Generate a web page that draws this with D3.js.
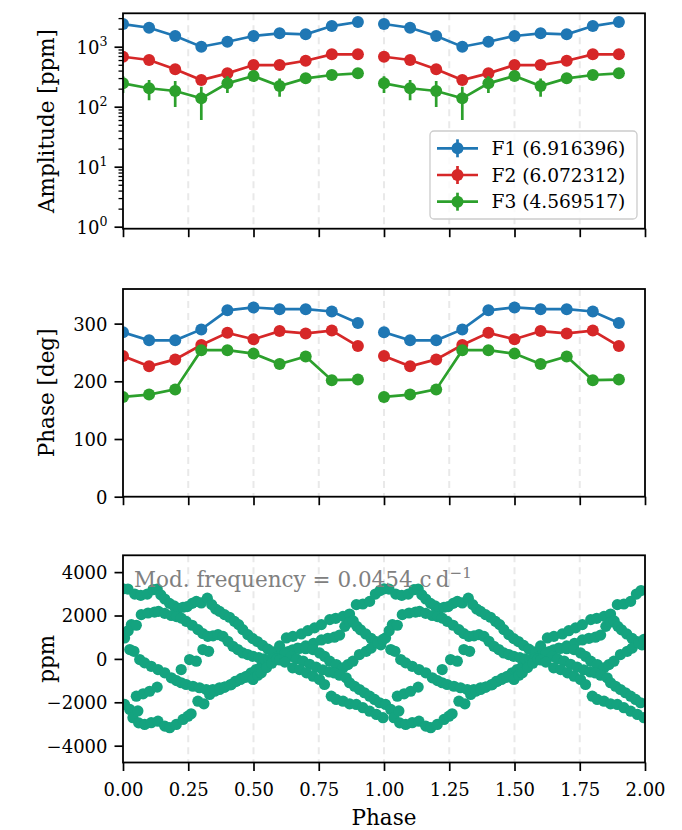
<!DOCTYPE html>
<html>
<head>
<meta charset="utf-8">
<script src="https://cdn.jsdelivr.net/npm/d3@7"></script>
<style>
  html, body { margin: 0; padding: 0; background: #ffffff; }
  svg { display: block; font-family: "DejaVu Serif", serif; }
</style>
</head>
<body>
<svg id="fig" width="682" height="830"></svg>
<script>
// ---- data -------------------------------------------------------------
// Modulation phases of the fitted segments (one cycle, drawn twice)
const phases = [0.0, 0.1, 0.2, 0.3, 0.4, 0.5, 0.6, 0.7, 0.8, 0.9];
const cycles = [0, 1];

// Amplitudes [ppm] and their uncertainties
const ampF1 = [2390, 2070, 1510, 1000, 1210, 1510, 1670, 1610, 2210, 2580];
const ampF2 = [681, 600, 420, 279, 360, 495, 495, 584, 747, 747];
const ampF3 = [245, 203, 183, 138, 245, 325, 221, 297, 338, 360];
const errAmpF1 = [40, 40, 40, 40, 40, 40, 40, 40, 40, 40];
const errAmpF2 = [35, 35, 35, 35, 35, 35, 35, 35, 35, 35];
const errAmpF3 = [76, 75, 84, 78, 76, 40, 74, 40, 35, 35];

// Phases [deg]
const phaseF1 = [285, 271, 271, 290, 323, 328, 325, 325, 321, 301];
const phaseF2 = [244, 226, 238, 263, 284, 273, 287, 283, 288, 261];
const phaseF3 = [173, 177, 186, 254, 254, 248, 230, 243, 202, 203];

const seriesNames = ["F1 (6.916396)", "F2 (6.072312)", "F3 (4.569517)"];
const seriesColors = ["#1f77b4", "#d62728", "#2ca02c"];

// Tick values
const phaseTicks = [0, 0.25, 0.5, 0.75, 1.0, 1.25, 1.5, 1.75, 2.0];
const ampTicks = [1, 10, 100, 1000];
const degTicks = [0, 100, 200, 300];
const ppmTicks = [-4000, -2000, 0, 2000, 4000];

// Light curve folded on the modulation period: [phase, ppm] runs
const runA = [[0.000,3230],[0.019,3220],[0.045,2990],[0.068,2930],[0.093,2990],[0.115,3190],[0.131,3220],
  [0.145,2950],[0.160,2760],[0.178,2560],[0.195,2450],[0.212,2330],[0.230,2380],[0.246,2410],[0.265,2560],
  [0.281,2650],[0.300,2580],[0.323,2800],[0.340,2500],[0.355,2300],[0.370,2190],[0.389,2040],[0.408,1920],
  [0.427,1730],[0.443,1580],[0.459,1350],[0.478,1120],[0.497,935],[0.515,800],[0.535,620],[0.555,450],
  [0.575,330],[0.595,250]];
const runB = [[0.560,-50],[0.580,250],[0.600,600],[0.626,965],[0.651,1040],[0.683,1150],[0.708,1300],
  [0.734,1430],[0.760,1580],[0.792,1810],[0.815,1870],[0.843,1960],[0.868,2070],[0.894,2500],[0.919,2530],
  [0.945,2650],[0.967,2990],[0.985,3150]];
const runC = [[0.610,150],[0.640,350],[0.670,500],[0.700,600],[0.730,720],[0.760,875],[0.785,950],
  [0.810,1000],[0.830,1100],[0.850,1500],[0.868,1700],[0.882,1750],[0.896,1500],[0.910,1340],[0.930,1150],
  [0.950,950],[0.970,800],[0.988,650],[0.026,430],[0.042,350],[0.064,-30],[0.083,-185],[0.108,-340],
  [0.134,-490],[0.160,-640],[0.185,-870],[0.205,-1000],[0.223,-1100],[0.242,-1180],[0.268,-1260],
  [0.293,-1330],[0.319,-1410],[0.344,-1410],[0.370,-1330],[0.389,-1300],[0.415,-1180],[0.434,-1030],
  [0.453,-900],[0.472,-800],[0.491,-640],[0.510,-490],[0.530,-350],[0.550,-200],[0.570,-50],[0.590,80]];
const runD = [[0.610,250],[0.630,330],[0.650,420],[0.675,480],[0.700,470],[0.728,430],[0.753,275],
  [0.772,120],[0.792,-107],[0.817,-260],[0.843,-410],[0.862,-260],[0.881,-107],[0.906,200],[0.932,350],
  [0.951,500],[0.976,735],[0.996,900],[0.006,965],[0.020,1300],[0.032,1580],[0.051,1550],[0.070,2040],
  [0.096,2115],[0.121,2160],[0.136,2190],[0.160,2100],[0.185,2000],[0.205,1950],[0.223,1880],[0.242,1730],
  [0.265,1550],[0.287,1350],[0.306,1165],[0.325,1040],[0.345,1060],[0.364,1120],[0.383,1040],[0.402,810],
  [0.421,580],[0.440,430],[0.459,275],[0.478,200],[0.497,120],[0.520,60],[0.540,0],[0.560,-30],[0.580,30]];
const runE = [[0.620,250],[0.645,120],[0.665,0],[0.690,-100],[0.715,-250],[0.740,-380],[0.765,-500],
  [0.790,-600],[0.810,-650],[0.830,-750],[0.855,-870],[0.868,-1100],[0.887,-1260],[0.906,-1410],
  [0.925,-1560],[0.945,-1720],[0.964,-1870],[0.983,-2020],[0.006,-2100],[0.026,-2330],[0.038,-2710],
  [0.060,-2950],[0.083,-3020],[0.108,-2940],[0.134,-2870],[0.160,-3100],[0.179,-3170],[0.204,-3020],
  [0.230,-2790],[0.249,-2640],[0.261,-2530],[0.287,-1950],[0.310,-2070],[0.332,-1640],[0.351,-1490],
  [0.370,-1410],[0.390,-1300],[0.410,-1200],[0.430,-1040],[0.450,-950],[0.470,-850],[0.498,-950],
  [0.517,-750],[0.530,-640],[0.550,-400],[0.570,-200],[0.590,0]];
const runF = [[0.600,-50],[0.620,-150],[0.650,-410],[0.677,-490],[0.703,-640],[0.728,-800],[0.753,-950],
  [0.772,-1180],[0.798,-1720],[0.817,-1870],[0.843,-1950],[0.868,-2070],[0.894,-2100],[0.919,-2250],
  [0.945,-2410],[0.971,-2560],[0.996,-2710],[0.057,-2400],[0.051,-1720],[0.077,-1610],[0.102,-1490],
  [0.131,-1300],[0.223,-490],[0.255,-30],[0.281,-107],[0.306,430],[0.328,350]];
const lightCurveRuns = [runA, runB, runC, runD, runE, runF];
const lcColor = "#14a37f";
const modLabel = "Mod. frequency = 0.0454";

// ---- layout -----------------------------------------------------------
const L = 123, R = 645;
const boxes = { amp: [13.3, 228.7], deg: [289, 496.7], lc: [555.3, 762.5] };
const svg = d3.select("#fig");
const x = d3.scaleLinear().domain([0, 2]).range([L, R]);

const yAmp = d3.scaleLog().domain([0.926, 3606]).range([boxes.amp[1], boxes.amp[0]]);
const yDeg = d3.scaleLinear().domain([0, 360]).range([boxes.deg[1], boxes.deg[0]]);
const yLc = d3.scaleLinear().domain([-4775, 4775]).range([boxes.lc[1], boxes.lc[0]]);

const TICK_FS = 18, LABEL_FS = 21.5;

function clipFor(id, box) {
  svg.append("clipPath").attr("id", id)
    .append("rect").attr("x", L).attr("y", box[0]).attr("width", R - L).attr("height", box[1] - box[0]);
  return "url(#" + id + ")";
}

function grid(box) {
  svg.append("g").selectAll("line")
    .data(phaseTicks.filter(t => t > 0 && t < 2)).join("line")
    .attr("x1", d => x(d)).attr("x2", d => x(d))
    .attr("y1", box[0]).attr("y2", box[1])
    .attr("stroke", "#e9e9e9").attr("stroke-width", 2).attr("stroke-dasharray", "7,5");
}

function xAxis(box, labels) {
  const ax = d3.axisBottom(x).tickValues(phaseTicks).tickSize(8.5).tickPadding(5)
    .tickFormat(labels ? d3.format(".2f") : () => "");
  const g = svg.append("g").attr("transform", `translate(0,${box[1]})`).call(ax);
  g.select(".domain").remove();
  g.selectAll(".tick line").attr("stroke", "#000").attr("stroke-width", 1.7);
  g.selectAll(".tick text").attr("fill", "#000").attr("font-size", TICK_FS)
    .attr("font-family", "DejaVu Serif").attr("dy", null).attr("y", 33.5);
}

function yAxis(scale, values, fmt) {
  const ax = d3.axisLeft(scale).tickValues(values).tickSize(8.5).tickPadding(7).tickFormat(fmt);
  const g = svg.append("g").attr("transform", `translate(${L},0)`).call(ax);
  g.select(".domain").remove();
  g.selectAll(".tick line").attr("stroke", "#000").attr("stroke-width", 1.7);
  g.selectAll(".tick text").attr("fill", "#000").attr("font-size", TICK_FS)
    .attr("font-family", "DejaVu Serif").attr("dy", "0.36em");
  return g;
}

function frame(box) {
  svg.append("rect").attr("x", L).attr("y", box[0]).attr("width", R - L).attr("height", box[1] - box[0])
    .attr("fill", "none").attr("stroke", "#000").attr("stroke-width", 1.8);
}

function yLabel(text, box) {
  svg.append("text").attr("transform", `translate(54,${(box[0] + box[1]) / 2}) rotate(-90)`)
    .attr("text-anchor", "middle").attr("font-size", LABEL_FS).attr("fill", "#000").text(text);
}

// ---- panel 1: amplitudes ----------------------------------------------
grid(boxes.amp);
const ampClip = clipFor("clipAmp", boxes.amp);
const ampSeries = [[ampF1, errAmpF1], [ampF2, errAmpF2], [ampF3, errAmpF3]];
const gAmp = svg.append("g").attr("clip-path", ampClip);
ampSeries.forEach(([vals, errs], i) => {
  const col = seriesColors[i];
  cycles.forEach(c => {
    const pts = phases.map((p, k) => ({ p: p + c, v: vals[k], e: errs[k] }));
    gAmp.append("path").datum(pts)
      .attr("d", d3.line().x(d => x(d.p)).y(d => yAmp(d.v)))
      .attr("fill", "none").attr("stroke", col).attr("stroke-width", 2.7);
    gAmp.append("g").selectAll("line").data(pts).join("line")
      .attr("x1", d => x(d.p)).attr("x2", d => x(d.p))
      .attr("y1", d => yAmp(Math.max(d.v - d.e, 0.5))).attr("y2", d => yAmp(d.v + d.e))
      .attr("stroke", col).attr("stroke-width", 2.7);
    gAmp.append("g").selectAll("circle").data(pts).join("circle")
      .attr("cx", d => x(d.p)).attr("cy", d => yAmp(d.v)).attr("r", 6).attr("fill", col);
  });
});
frame(boxes.amp);
xAxis(boxes.amp, false);
// minor log ticks
const minorAmp = [];
[1, 10, 100, 1000].forEach(dec => { for (let m = 2; m <= 9; m++) if (dec * m < 3606) minorAmp.push(dec * m); });
const gMinor = svg.append("g").attr("transform", `translate(${L},0)`)
  .call(d3.axisLeft(yAmp).tickValues(minorAmp).tickSize(4.5).tickFormat(() => ""));
gMinor.select(".domain").remove();
gMinor.selectAll(".tick line").attr("stroke", "#000").attr("stroke-width", 1.3);
const gAmpAx = yAxis(yAmp, ampTicks, () => "");
gAmpAx.selectAll(".tick text").each(function (d) {
  const t = d3.select(this);
  t.append("tspan").text("10");
  t.append("tspan").attr("font-size", 12.6).attr("dy", -7.5).text(String(Math.round(Math.log10(d))));
});
yLabel("Amplitude [ppm]", boxes.amp);

// legend
const lg = svg.append("g");
lg.append("rect").attr("x", 430).attr("y", 131).attr("width", 207).attr("height", 88).attr("rx", 4)
  .attr("fill", "#fff").attr("fill-opacity", 0.8).attr("stroke", "#cccccc").attr("stroke-width", 1.3);
seriesNames.forEach((name, i) => {
  const yy = 148.3 + i * 26.7;
  const col = seriesColors[i];
  lg.append("line").attr("x1", 437).attr("x2", 478).attr("y1", yy).attr("y2", yy)
    .attr("stroke", col).attr("stroke-width", 2.7);
  lg.append("line").attr("x1", 457.5).attr("x2", 457.5).attr("y1", yy - 9).attr("y2", yy + 9)
    .attr("stroke", col).attr("stroke-width", 2.7);
  lg.append("circle").attr("cx", 457.5).attr("cy", yy).attr("r", 6).attr("fill", col);
  lg.append("text").attr("x", 491.5).attr("y", yy + 6.6).attr("font-size", 18.6).attr("fill", "#000").text(name);
});

// ---- panel 2: phases ---------------------------------------------------
grid(boxes.deg);
const degClip = clipFor("clipDeg", boxes.deg);
const gDeg = svg.append("g").attr("clip-path", degClip);
[phaseF1, phaseF2, phaseF3].forEach((vals, i) => {
  const col = seriesColors[i];
  cycles.forEach(c => {
    const pts = phases.map((p, k) => ({ p: p + c, v: vals[k] }));
    gDeg.append("path").datum(pts)
      .attr("d", d3.line().x(d => x(d.p)).y(d => yDeg(d.v)))
      .attr("fill", "none").attr("stroke", col).attr("stroke-width", 2.7);
    gDeg.append("g").selectAll("circle").data(pts).join("circle")
      .attr("cx", d => x(d.p)).attr("cy", d => yDeg(d.v)).attr("r", 6).attr("fill", col);
  });
});
frame(boxes.deg);
xAxis(boxes.deg, false);
yAxis(yDeg, degTicks, d3.format("d"));
yLabel("Phase [deg]", boxes.deg);

// ---- panel 3: folded light curve ----------------------------------------
grid(boxes.lc);
const lcClip = clipFor("clipLc", boxes.lc);
const lcPts = [];
lightCurveRuns.forEach(run => cycles.forEach(c => run.forEach(([p, v]) => lcPts.push({ p: p + c, v }))));
svg.append("g").attr("clip-path", lcClip).selectAll("circle").data(lcPts).join("circle")
  .attr("cx", d => x(d.p)).attr("cy", d => yLc(d.v)).attr("r", 5.6).attr("fill", lcColor);
const note = svg.append("text").attr("x", 134).attr("y", 586.5).attr("font-size", 21.5).attr("fill", "#808080");
note.append("tspan").text(modLabel + " c\u2009d");
note.append("tspan").attr("font-size", 15).attr("dy", -8.5).text("\u22121");
frame(boxes.lc);
xAxis(boxes.lc, true);
yAxis(yLc, ppmTicks, d => d3.format("d")(d).replace("-", "\u2212"));
yLabel("ppm", boxes.lc);
svg.append("text").attr("x", (L + R) / 2).attr("y", 825).attr("text-anchor", "middle")
  .attr("font-size", LABEL_FS).attr("fill", "#000").text("Phase");
</script>
</body>
</html>
